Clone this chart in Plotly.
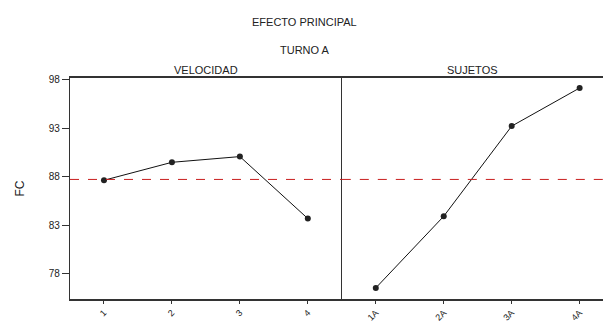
import numpy as np
import plotly.graph_objects as go

velocidad_cats = ["1", "2", "3", "4"]
velocidad_fc = [87.62, 89.47, 90.06, 83.67]
sujetos_cats = ["1A", "2A", "3A", "4A"]
sujetos_fc = [76.52, 83.91, 93.2, 97.13]
y_ticks = [78, 83, 88, 93, 98]

W, H = 603, 322
FONT = "Liberation Sans, Arial, sans-serif"
grand_mean = float(np.mean(velocidad_fc))

left0, div, right1 = 70.4, 342.0, 603.0
top, bottom = 77.7, 298.7
pw = right1 - left0
step = (div - left0) / 4.0
yr = [75.38, 98.16]
split = (div - left0) / pw

fig = go.Figure()
marker = dict(symbol="circle", size=6, color="#222222")
line = dict(color="#111111", width=1)
fig.add_trace(go.Scatter(x=[1, 2, 3, 4], y=velocidad_fc, mode="lines+markers",
                         marker=marker, line=line, xaxis="x", yaxis="y",
                         showlegend=False, hoverinfo="skip", cliponaxis=False))
fig.add_trace(go.Scatter(x=[1, 2, 3, 4], y=sujetos_fc, mode="lines+markers",
                         marker=marker, line=line, xaxis="x2", yaxis="y2",
                         showlegend=False, hoverinfo="skip", cliponaxis=False))

tickfont = dict(family=FONT, size=10, color="#222222")
xtickfont = dict(family=FONT, size=9, color="#222222")
xcommon = dict(showgrid=False, zeroline=False, showline=True,
               linecolor="#333333", linewidth=2, mirror=True,
               tickmode="array", tickvals=[1, 2, 3, 4],
               ticks="outside", ticklen=3, tickcolor="#333333", tickwidth=1,
               tickangle=-45, tickfont=xtickfont)

fig.update_layout(
    width=W, height=H, autosize=False,
    margin=dict(l=left0, r=W - right1, t=top, b=H - bottom, autoexpand=False),
    paper_bgcolor="white", plot_bgcolor="white",
    font=dict(family=FONT, color="#222222"),
    xaxis=dict(domain=[0, split], range=[0.5, 4.5], ticktext=velocidad_cats,
               anchor="y", **xcommon),
    yaxis=dict(domain=[0, 1], range=yr, tickmode="array", tickvals=y_ticks,
               showgrid=False, zeroline=False, showline=True,
               linecolor="#333333", linewidth=1.2, mirror=False,
               ticks="outside", ticklen=7, tickcolor="#333333", tickwidth=1,
               tickfont=tickfont, anchor="x",
               title=dict(text="FC", font=dict(family=FONT, size=12), standoff=21)),
    xaxis2=dict(domain=[split, 1.0], range=[0.5, 0.5 + (right1 - div) / step],
                ticktext=sujetos_cats, anchor="y2", **xcommon),
    yaxis2=dict(domain=[0, 1], range=yr, showticklabels=False, ticks="",
                showgrid=False, zeroline=False, showline=True,
                linecolor="#333333", linewidth=1.2, mirror=False, anchor="x2"),
)

for xr, yrf in [("x domain", "y"), ("x2 domain", "y2")]:
    fig.add_shape(type="line", xref=xr, yref=yrf, x0=0, x1=1,
                  y0=grand_mean, y1=grand_mean,
                  line=dict(color="#c81e1e", width=1, dash="dash"))

ann_font = dict(family=FONT, size=11, color="#222222")
fig.add_annotation(text="EFECTO PRINCIPAL", xref="paper", yref="paper",
                   x=(305 - left0) / pw, y=1 + (top - 14) / (bottom - top),
                   showarrow=False, font=ann_font)
fig.add_annotation(text="TURNO A", xref="paper", yref="paper",
                   x=(305 - left0) / pw, y=1 + (top - 42) / (bottom - top),
                   showarrow=False, font=ann_font)
fig.add_annotation(text="VELOCIDAD", xref="x domain", yref="paper",
                   x=0.5, y=1, yanchor="bottom", yshift=0,
                   showarrow=False, font=ann_font)
fig.add_annotation(text="SUJETOS", xref="x2 domain", yref="paper",
                   x=0.5, y=1, yanchor="bottom", yshift=0,
                   showarrow=False, font=ann_font)

fig.write_html("out.html", config={"displayModeBar": False},
               post_script="document.body.style.margin='0';document.body.style.padding='0';")
